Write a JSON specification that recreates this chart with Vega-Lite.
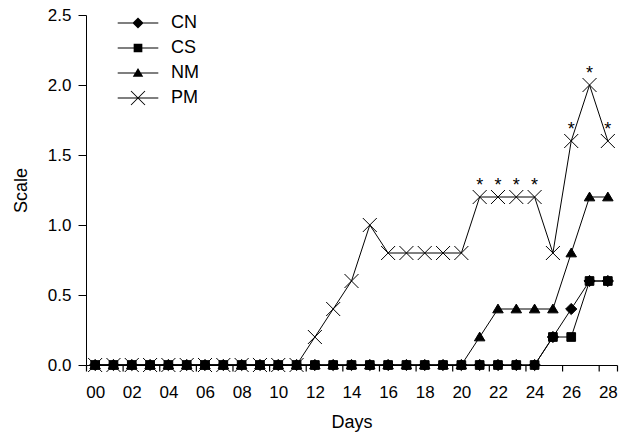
{
  "$schema": "https://vega.github.io/schema/vega-lite/v6.json",
  "width": 531,
  "height": 350,
  "autosize": {"type": "none"},
  "padding": {"left": 86, "top": 15, "right": 15, "bottom": 72},
  "background": "white",
  "config": {
    "view": {"stroke": null},
    "font": "Liberation Sans",
    "axis": {"labelFont": "Liberation Sans", "titleFont": "Liberation Sans", "labelColor": "black", "titleColor": "black", "domainColor": "black", "tickColor": "black", "titleFontWeight": "normal", "grid": false, "labelFontSize": 17, "titleFontSize": 18},
    "legend": {"labelFont": "Liberation Sans", "labelFontSize": 18, "labelColor": "black"}
  },
  "data": {"values": [
    {"day": 0, "CN": 0, "CS": 0, "NM": 0, "PM": 0, "sig": ""},
    {"day": 1, "CN": 0, "CS": 0, "NM": 0, "PM": 0, "sig": ""},
    {"day": 2, "CN": 0, "CS": 0, "NM": 0, "PM": 0, "sig": ""},
    {"day": 3, "CN": 0, "CS": 0, "NM": 0, "PM": 0, "sig": ""},
    {"day": 4, "CN": 0, "CS": 0, "NM": 0, "PM": 0, "sig": ""},
    {"day": 5, "CN": 0, "CS": 0, "NM": 0, "PM": 0, "sig": ""},
    {"day": 6, "CN": 0, "CS": 0, "NM": 0, "PM": 0, "sig": ""},
    {"day": 7, "CN": 0, "CS": 0, "NM": 0, "PM": 0, "sig": ""},
    {"day": 8, "CN": 0, "CS": 0, "NM": 0, "PM": 0, "sig": ""},
    {"day": 9, "CN": 0, "CS": 0, "NM": 0, "PM": 0, "sig": ""},
    {"day": 10, "CN": 0, "CS": 0, "NM": 0, "PM": 0, "sig": ""},
    {"day": 11, "CN": 0, "CS": 0, "NM": 0, "PM": 0, "sig": ""},
    {"day": 12, "CN": 0, "CS": 0, "NM": 0, "PM": 0.2, "sig": ""},
    {"day": 13, "CN": 0, "CS": 0, "NM": 0, "PM": 0.4, "sig": ""},
    {"day": 14, "CN": 0, "CS": 0, "NM": 0, "PM": 0.6, "sig": ""},
    {"day": 15, "CN": 0, "CS": 0, "NM": 0, "PM": 1.0, "sig": ""},
    {"day": 16, "CN": 0, "CS": 0, "NM": 0, "PM": 0.8, "sig": ""},
    {"day": 17, "CN": 0, "CS": 0, "NM": 0, "PM": 0.8, "sig": ""},
    {"day": 18, "CN": 0, "CS": 0, "NM": 0, "PM": 0.8, "sig": ""},
    {"day": 19, "CN": 0, "CS": 0, "NM": 0, "PM": 0.8, "sig": ""},
    {"day": 20, "CN": 0, "CS": 0, "NM": 0, "PM": 0.8, "sig": ""},
    {"day": 21, "CN": 0, "CS": 0, "NM": 0.2, "PM": 1.2, "sig": "*"},
    {"day": 22, "CN": 0, "CS": 0, "NM": 0.4, "PM": 1.2, "sig": "*"},
    {"day": 23, "CN": 0, "CS": 0, "NM": 0.4, "PM": 1.2, "sig": "*"},
    {"day": 24, "CN": 0, "CS": 0, "NM": 0.4, "PM": 1.2, "sig": "*"},
    {"day": 25, "CN": 0.2, "CS": 0.2, "NM": 0.4, "PM": 0.8, "sig": ""},
    {"day": 26, "CN": 0.4, "CS": 0.2, "NM": 0.8, "PM": 1.6, "sig": "*"},
    {"day": 27, "CN": 0.6, "CS": 0.6, "NM": 1.2, "PM": 2.0, "sig": "*"},
    {"day": 28, "CN": 0.6, "CS": 0.6, "NM": 1.2, "PM": 1.6, "sig": "*"}
  ]},
  "transform": [{"fold": ["CN", "CS", "NM", "PM"], "as": ["series", "value"]}],
  "layer": [
    {
      "mark": {"type": "line", "color": "black", "strokeWidth": 1},
      "encoding": {
        "x": {"field": "day", "type": "quantitative", "scale": {"domain": [-0.5, 28.5], "nice": false, "zero": false},
              "axis": {"orient": "bottom", "values": [-0.5, 1.5, 3.5, 5.5, 7.5, 9.5, 11.5, 13.5, 15.5, 17.5, 19.5, 21.5, 23.5, 25.5, 27.5, 28.5], "tickCount": 100, "labels": false, "ticks": true, "tickSize": 6, "tickWidth": 1.2, "tickColor": "black", "tickOpacity": 1, "tickRound": false, "zindex": 1, "title": null, "domain": true}},
        "y": {"field": "value", "type": "quantitative", "scale": {"domain": [0, 2.5], "nice": false},
              "axis": {"values": [0, 0.5, 1, 1.5, 2, 2.5], "format": ".1f", "tickSize": 8, "labelPadding": 7, "title": "Scale", "titlePadding": 17}},
        "detail": {"field": "series", "type": "nominal"}
      }
    },
    {
      "mark": {"type": "point", "filled": true, "fill": "black", "stroke": "black", "strokeWidth": 1, "size": 196, "opacity": 1},
      "encoding": {
        "x": {"field": "day", "type": "quantitative",
              "axis": {"orient": "bottom", "values": [0, 2, 4, 6, 8, 10, 12, 14, 16, 18, 20, 22, 24, 26, 28], "tickCount": 100, "format": "02d", "ticks": false, "tickSize": 0, "domain": false, "labelOverlap": false, "labelFlush": false, "labelPadding": 19, "title": "Days", "titlePadding": 13}},
        "y": {"field": "value", "type": "quantitative"},
        "shape": {"field": "series", "type": "nominal", "legend": null,
          "scale": {"domain": ["CN", "CS", "NM", "PM"], "range": ["M0,-0.8L0.8,0L0,0.8L-0.8,0Z", "M-0.62,-0.62L0.62,-0.62L0.62,0.62L-0.62,0.62Z", "M0,-0.7L0.75,0.55L-0.75,0.55Z", "M-1,-1L1,1M-1,1L1,-1"]}
        }
      }
    },
    {
      "transform": [{"filter": "datum.series === 'PM' && datum.sig !== ''"}],
      "mark": {"type": "text", "font": "Liberation Sans", "fontSize": 18, "color": "black", "baseline": "alphabetic", "dy": -6},
      "encoding": {
        "x": {"field": "day", "type": "quantitative", "axis": null},
        "y": {"field": "value", "type": "quantitative"},
        "text": {"field": "sig"}
      }
    },
    {
      "mark": {"type": "point", "filled": true, "color": "black", "fill": "black", "size": 196, "opacity": 0},
      "encoding": {
        "x": {"field": "day", "type": "quantitative", "axis": null},
        "y": {"field": "value", "type": "quantitative"},
        "shape": {"field": "series", "type": "nominal",
          "scale": {"domain": ["CN", "CS", "NM", "PM"], "range": [
            "M-2.9,-0.07L2.9,-0.07L2.9,0.07L-2.9,0.07ZM0,-0.8L0.8,0L0,0.8L-0.8,0Z",
            "M-2.9,-0.07L2.9,-0.07L2.9,0.07L-2.9,0.07ZM-0.62,-0.62L0.62,-0.62L0.62,0.62L-0.62,0.62Z",
            "M-2.9,-0.07L2.9,-0.07L2.9,0.07L-2.9,0.07ZM0,-0.7L0.75,0.55L-0.75,0.55Z",
            "M-2.9,-0.07L2.9,-0.07L2.9,0.07L-2.9,0.07ZM-0.95,-1.05L1.05,0.95L0.95,1.05L-1.05,-0.95ZM-1.05,0.95L0.95,-1.05L1.05,-0.95L-0.95,1.05Z"
          ]},
          "legend": {"orient": "none", "legendX": 43, "legendY": -1, "title": null, "padding": 0, "symbolSize": 196, "symbolFillColor": "black", "symbolStrokeColor": "black", "symbolStrokeWidth": 0, "symbolOpacity": 1, "labelOffset": 24, "rowPadding": 7}
        }
      }
    }
  ],
  "resolve": {"scale": {"shape": "independent"}, "axis": {"x": "independent"}}
}
